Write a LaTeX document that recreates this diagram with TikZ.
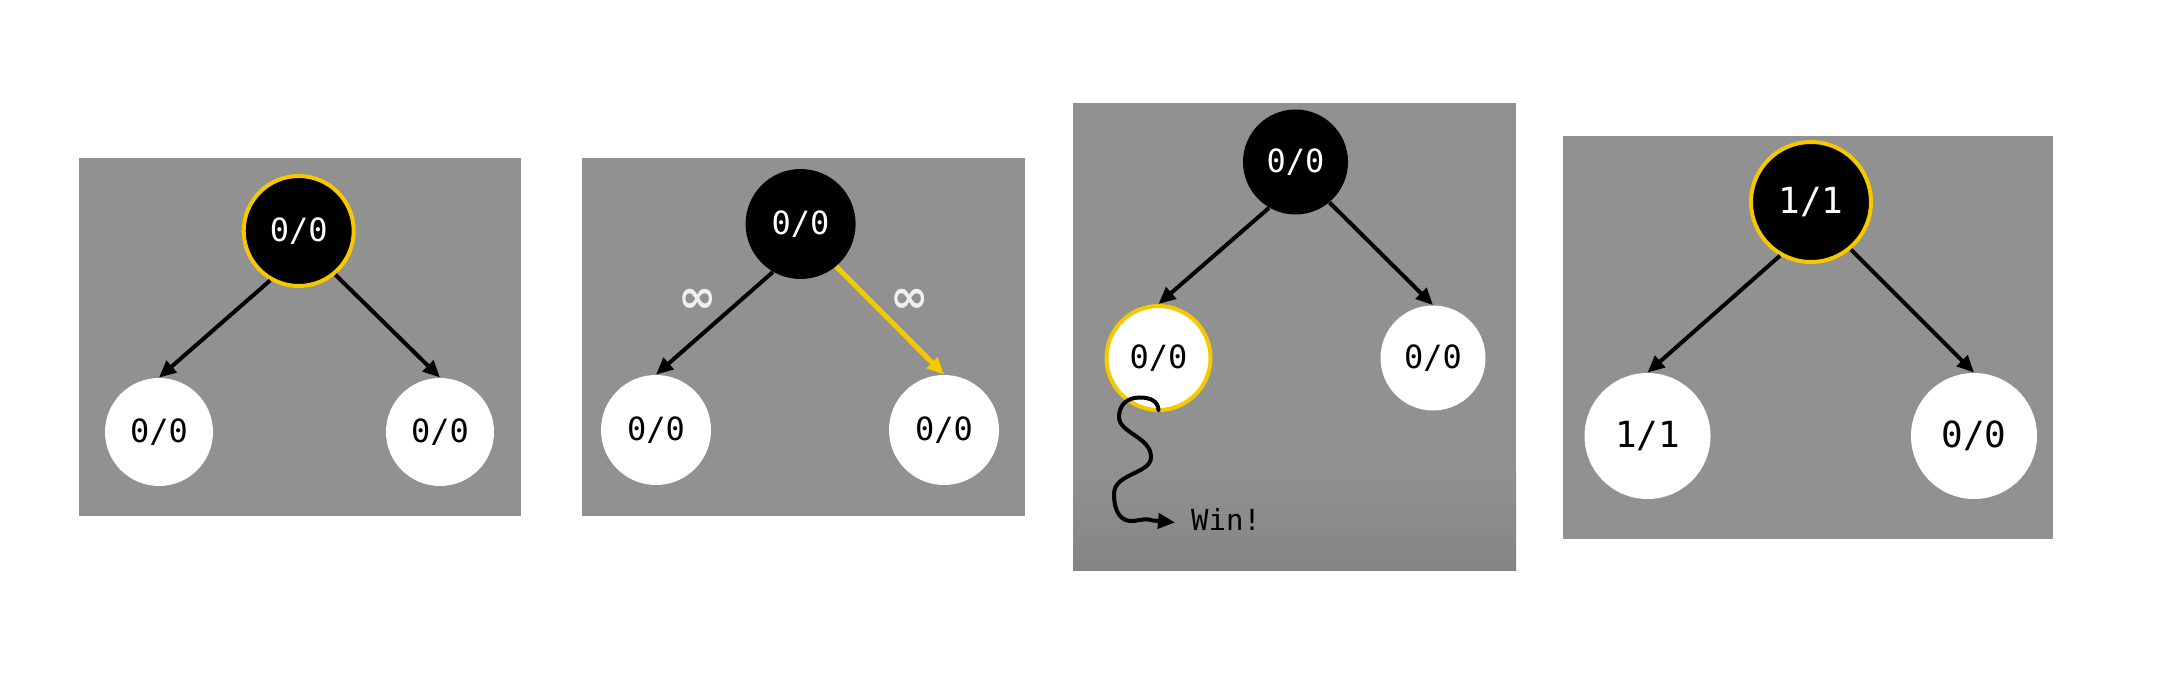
\documentclass[tikz,border=0pt]{standalone}
\usepackage{fontspec}
\usepackage{xcolor}
\usepackage{tikz}
\usetikzlibrary{
  arrows.meta,
  positioning
}
\newfontfamily\codefont{DejaVu Sans Mono}
\newfontfamily\symfont{DejaVu Sans}
\definecolor{panelgray}{HTML}{919191}
\definecolor{hlyellow}{HTML}{F5C800}
\definecolor{infwhite}{HTML}{EFEFEF}

\begin{document}
\begin{tikzpicture}[
  x=0.5pt, y=-0.5pt,
  node/.style={circle, inner sep=0pt, font=\codefont\fontsize{16}{18}\selectfont},
  blk/.style={node, fill=black, text=white, minimum size=54pt},
  wht/.style={node, fill=white, text=black, minimum size=54pt},
  hl/.style={draw=hlyellow, line width=2pt},
  panel/.style={fill=panelgray},
  arrow/.style={-{Triangle[length=8.5pt,width=7.5pt]}, line width=2pt},
  lbl/.style={font=\symfont\bfseries\fontsize{23}{25}\selectfont, text=infwhite},
]
  \useasboundingbox (0,0) rectangle (2168,700);

  % Panels
  \fill[panel] (78.5,158) rectangle (520.5,516);
  \fill[panel] (582,158) rectangle (1025,516);
  \fill[panel] (1073,103) rectangle (1516,570.5);
  \shade[top color=panelgray, bottom color=panelgray!91!black]
    (1073,470) rectangle (1516,570.5);
  \fill[panel] (1562.5,136) rectangle (2052.5,538.5);

  % Select
  \node[blk, hl, minimum size=55pt] (rt1) at (298.7,231) {0/0};
  \node[wht] (l1) at (159,432) {0/0};
  \node[wht] (r1) at (440,432) {0/0};
  \draw[arrow] (rt1.240) -- (l1.north);
  \draw[arrow] (rt1.310) -- (r1.north);

  % Pick child
  \node[blk, minimum size=55pt] (rt2) at (800.6,224) {0/0};
  \node[wht, minimum size=55pt] (l2) at (656,430) {0/0};
  \node[wht, minimum size=55pt] (r2) at (944,430) {0/0};
  \draw[arrow] (rt2.240) -- (l2.north);
  \draw[arrow, hlyellow, line width=2.5pt] (rt2.310) -- (r2.north);
  \node[lbl] (inf1) at (698,301) {∞};
  \node[lbl] (inf2) at (910,301) {∞};

  % Simulate
  \node[blk, minimum size=52.5pt] (rt3) at (1295.5,162) {0/0};
  \node[wht, hl, minimum size=52pt] (l3) at (1158.5,358) {0/0};
  \node[wht, minimum size=52.5pt] (r3) at (1433,358) {0/0};
  \draw[arrow] (rt3.240) -- (l3.north);
  \draw[arrow] (rt3.310) -- (r3.north);
  \node[font=\codefont\fontsize{14.5}{16}\selectfont] (win) at (1226,519) {Win!};
  \coordinate (wend) at (1175,522.5);
  \draw[arrow, line cap=round] ([yshift=1pt]l3.south)
    .. controls (1158,401) and (1150,397.5) .. (1140,397.5)
    .. controls (1127,397.5) and (1119,405) .. (1119,417)
    .. controls (1119,433) and (1151,437) .. (1151,457)
    .. controls (1151,474) and (1114,473) .. (1114,494)
    .. controls (1114,512) and (1121,522) .. (1133,521)
    .. controls (1142,520) and (1146,518) .. (1153,520.5)
    -- (wend);

  % Backpropagate
  \node[blk, hl, minimum size=60pt, font=\codefont\fontsize{18}{20}\selectfont] (rt4) at (1811,202) {1/1};
  \node[wht, minimum size=63pt, font=\codefont\fontsize{18}{20}\selectfont] (l4) at (1647.5,436) {1/1};
  \node[wht, minimum size=63pt, font=\codefont\fontsize{18}{20}\selectfont] (r4) at (1974,436) {0/0};
  \draw[arrow] (rt4.240) -- (l4.north);
  \draw[arrow] (rt4.310) -- (r4.north);
\end{tikzpicture}
\end{document}
